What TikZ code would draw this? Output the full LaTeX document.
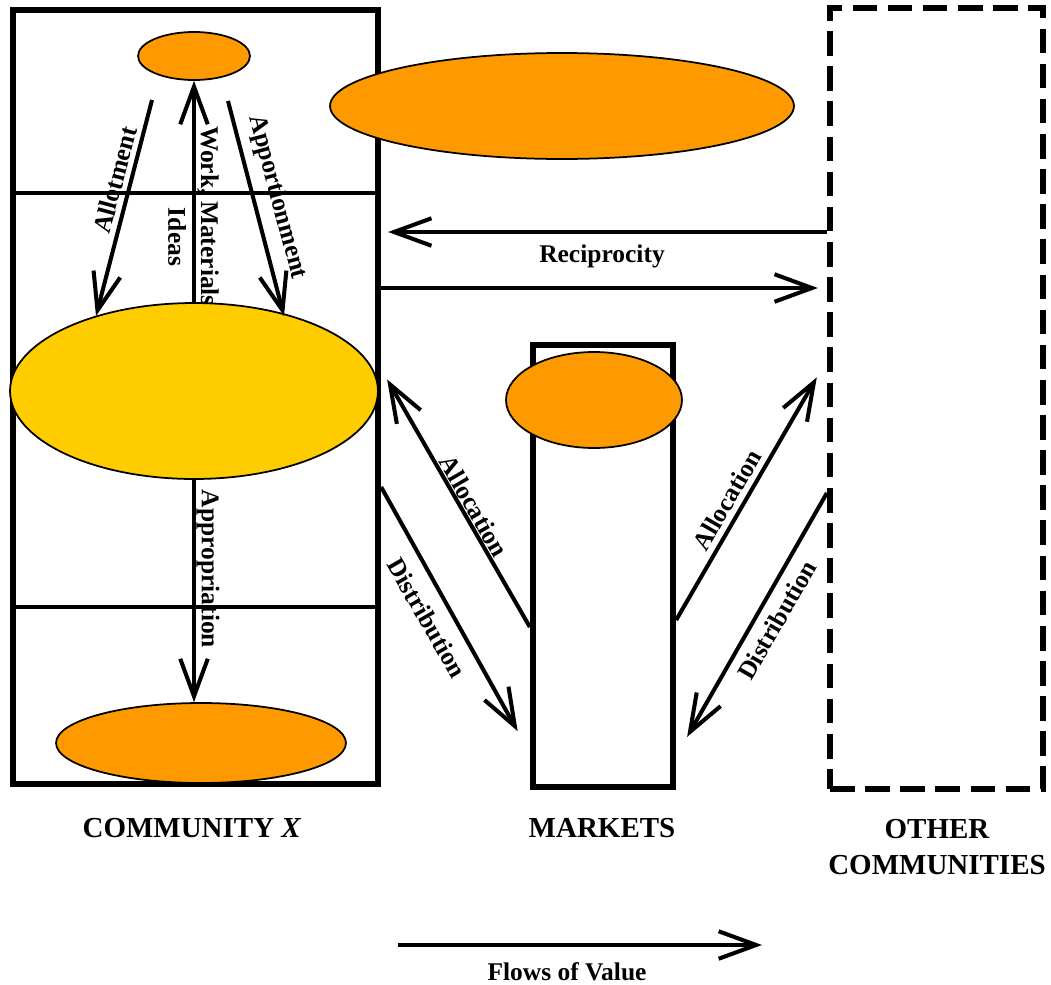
\documentclass[tikz,border=0pt]{standalone}
\usepackage{fontspec}
\setmainfont{Liberation Serif}
\usepackage{tikz}
\usetikzlibrary{calc,shapes.geometric,arrows.meta}
\usepackage{xcolor}
\definecolor{ellorange}{HTML}{FF9900}
\definecolor{ellyellow}{HTML}{FFCC00}

\begin{document}
\begin{tikzpicture}[x=0.02cm, y=-0.02cm]
    % styles
    \tikzstyle{box}=[
      draw,
      rectangle,
      line width=3.6pt,
      inner sep=0
    ]
    \tikzstyle{blob}=[
      draw,
      ellipse,
      line width=1pt,
      fill=ellorange,
      inner sep=0
    ]
    \tikzstyle{flow}=[-{Straight Barb[length=7.5mm,width=5.5mm]}, line width=2.3pt]
    \tikzstyle{lbl}=[font=\fontsize{14.5}{17}\selectfont\bfseries, inner sep=1pt]
    \tikzstyle{caption}=[font=\fontsize{16.5}{20.5}\selectfont\bfseries, align=center]

    \useasboundingbox (0,0) rectangle (1051,984);

    % Boxes
    \node[box, minimum width=7.3cm, minimum height=15.48cm] (com) at (195.5,397) {};
    \node[box, minimum width=2.8cm, minimum height=8.84cm] (mkt) at (603,566) {};
    \node[box, dash pattern=on 14pt off 6pt, minimum width=4.26cm, minimum height=15.62cm] (oth) at (936.5,398.5) {};

    % Dividers in community
    \draw[line width=2.2pt] (com.west |- 0,193) -- (com.east |- 0,193);
    \draw[line width=2.2pt] (com.west |- 0,607) -- (com.east |- 0,607);

    % Flow labels
    \node[lbl, rotate=75] (lalt) at (115,180) {Allotment};
    \node[lbl, rotate=-90] (lwork) at (208,216) {Work, Materials};
    \node[lbl, rotate=-90] (lidea) at (177,237) {Ideas};
    \node[lbl, rotate=-75] (lapp) at (277,197) {Apportionment};
    \node[lbl, rotate=-90] (lappr) at (208,569) {Appropriation};
    \node[lbl] (lrec) at (602,256) {Reciprocity};
    \node[lbl, rotate=-60] (lalloc1) at (474,506) {Allocation};
    \node[lbl, rotate=-60] (ldist1) at (427,618) {Distribution};
    \node[lbl, rotate=60] (lalloc2) at (727,500) {Allocation};
    \node[lbl, rotate=60] (ldist2) at (777,620) {Distribution};

    % Ellipses
    \node[blob, minimum width=2.24cm, minimum height=0.96cm] (top) at (194,56) {};
    \node[blob, minimum width=9.28cm, minimum height=2.12cm] (big) at (562,106) {};
    \node[blob, fill=ellyellow, minimum width=7.36cm, minimum height=3.52cm] (yel) at (194,391) {};
    \node[blob, minimum width=3.52cm, minimum height=1.92cm] (mktb) at (594,400) {};
    \node[blob, minimum width=5.8cm, minimum height=1.6cm] (bot) at (201,743) {};

    % Arrows inside community
    \coordinate (altS) at (152,100);
    \coordinate (altE) at (96,316);
    \coordinate (appS) at (228,101);
    \coordinate (appE) at (284,316);
    \draw[flow] (altS) -- (altE);
    \draw[flow] (appS) -- (appE);
    \draw[flow] (yel.north) -- (top.south);
    \draw[flow] (yel.south) -- (yel.south |- bot.north);

    % Reciprocity
    \draw[flow, shorten >=0.14cm] (oth.west |- 0,232) -- (com.east |- 0,232);
    \draw[flow, shorten >=0.18cm] (com.east |- 0,288) -- (oth.west |- 0,288);

    % Markets and community
    \draw[flow, shorten >=0.24cm] (mkt.west |- 0,627) -- (com.east |- 0,369);
    \draw[flow, shorten >=0.5cm] (com.east |- 0,487) -- (mkt.west |- 0,753);

    % Markets and other communities
    \draw[flow, shorten >=0.4cm] (mkt.east |- 0,620) -- (oth.west |- 0,360);
    \draw[flow, shorten >=0.44cm] (oth.west |- 0,493) -- (mkt.east |- 0,756);

    % Captions
    \node[caption] (capcom) at (192,828) {COMMUNITY \textit{X}};
    \node[caption] (capmkt) at (602,828) {MARKETS};
    \node[caption] (capoth) at (937,847) {OTHER\\COMMUNITIES};

    % Legend
    \coordinate (legS) at (398,945);
    \coordinate (legE) at (762,945);
    \draw[flow] (legS) -- (legE);
    \node[lbl] (leg) at (567,972) {Flows of Value};
\end{tikzpicture}
\end{document}
